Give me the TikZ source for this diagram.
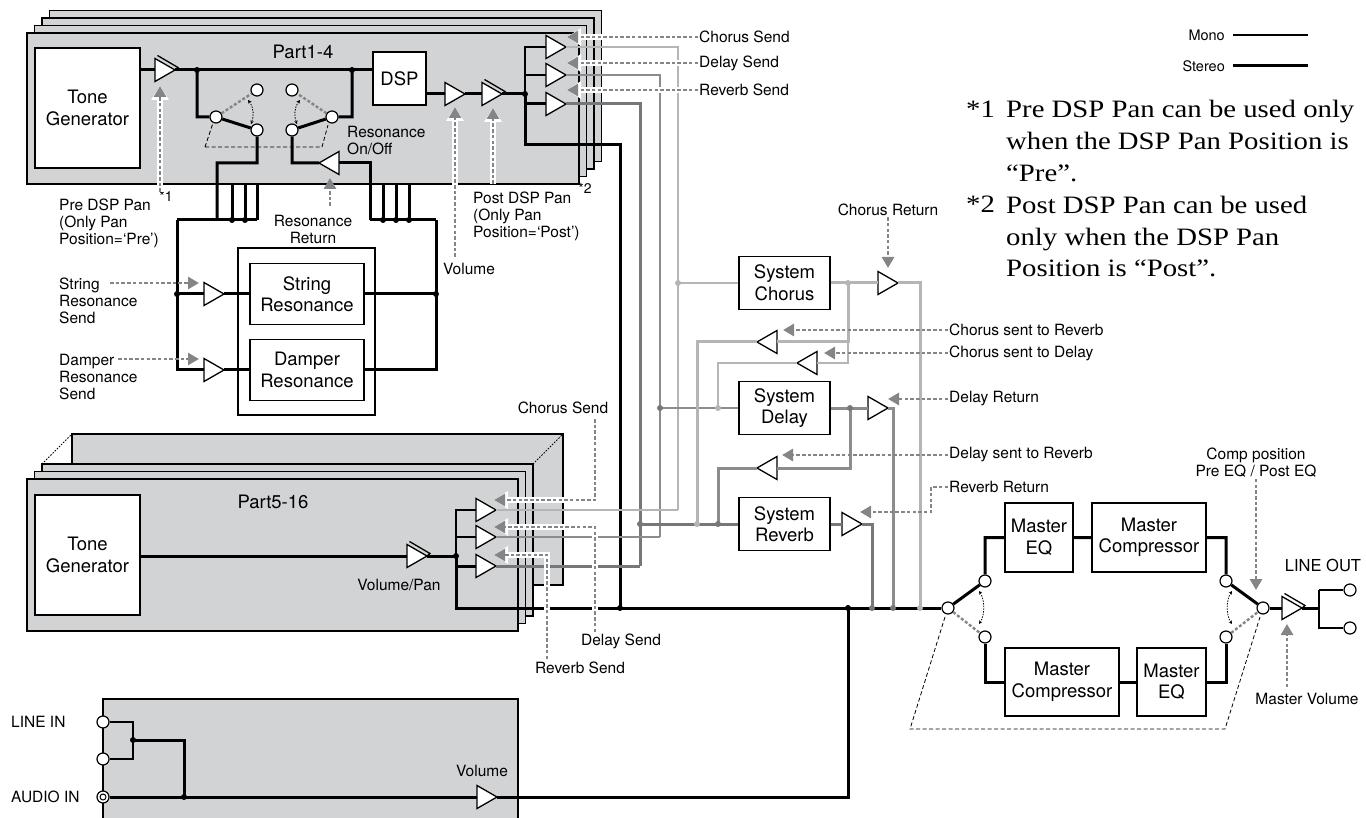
\documentclass[tikz,border=0pt]{standalone}
\usepackage{fontspec}
\setmainfont{TeX Gyre Heros}
\newfontfamily\notefont[FakeStretch=1.15]{Liberation Serif}
\usetikzlibrary{arrows.meta}

\definecolor{partgray}{HTML}{D1D3D4}
\definecolor{chorusgray}{HTML}{B3B5B7}
\definecolor{delaygray}{HTML}{8A8C8E}
\definecolor{reverbgray}{HTML}{767779}
\definecolor{ctlgray}{HTML}{838587}

\newcommand\labfont{\fontsize{15.5}{17}\selectfont}
\newcommand\blkfont{\fontsize{18.5}{21.5}\selectfont}
\newcommand\jdot[2][black]{\fill[#1] (#2) circle (3);}

\tikzset{
  layer/.style={draw, fill=partgray, line width=1.2pt},
  blk/.style={draw, fill=white, line width=1.3pt, font=\blkfont, align=center, inner sep=0pt},
  lab/.style={font=\labfont, inner sep=1pt, align=center},
  sw/.style={circle, draw, fill=white, line width=1.2pt, minimum size=12pt, inner sep=0pt},
  stereo/.style={line width=3pt},
  mono/.style={line width=1.3pt},
  offline/.style={draw=ctlgray, line width=2.4pt, dash pattern=on 3pt off 2pt},
  gang/.style={line width=0.8pt, dash pattern=on 4pt off 2.5pt},
  swing/.style={line width=0.8pt, dash pattern=on 1.5pt off 1.2pt,
    {Stealth[length=3.5pt,width=3.5pt]}-{Stealth[length=3.5pt,width=3.5pt]}},
  ctl/.style={draw=ctlgray, line width=2.7pt, dash pattern=on 3.5pt off 2.2pt,
    -{Triangle[length=11pt,width=12pt]}},
  ctlw/.style={ctl, preaction={draw=white, line width=6pt, solid,
    -{Triangle[length=14pt,width=17pt]}}},
  amp/.pic={\draw[line width=1.3pt, fill=white] (-10,-11.5) -- (10,0) -- (-10,11.5) -- cycle;
    \coordinate (-in) at (-10,0); \coordinate (-out) at (10,0);},
  panamp/.pic={\draw[line width=1.3pt, fill=white] (-10,-11.5) -- (10,0) -- (-10,11.5) -- cycle;
    \draw[line width=1.3pt] (-7.5,-14.5) -- (13,-2.5) -- (10,0);
    \coordinate (-in) at (-10,0); \coordinate (-out) at (10,0);},
}

\begin{document}
\begin{tikzpicture}[x=1pt, y=-1pt]
\useasboundingbox (0,0) rectangle (1366,818);

% part stacks
\foreach \d in {3,2,1,0}
  \draw[layer] ({27+7.5*\d},{33-7.5*\d}) rectangle ({579+7.5*\d},{184-7.5*\d});
\draw[layer] (72,434) rectangle (563,585);
\draw[gang, dash pattern=on 1.5pt off 1.5pt] (42,464) -- (72,434) (533,464) -- (563,434);
\foreach \d in {2,1,0}
  \draw[layer] ({27+7.5*\d},{479-7.5*\d}) rectangle ({518+7.5*\d},{631-7.5*\d});
\draw[layer] (103,699) rectangle (518,830);
\draw[line width=1.3pt] (238,248) rectangle (375,415);

\node[font=\blkfont] (t14) at (303,52) {Part1-4};
\node[font=\blkfont] (t516) at (273,502) {Part5-16};

% blocks
\node[blk, minimum width=105pt, minimum height=120pt] (tg1) at (87.5,108) {Tone\\Generator};
\node[blk, minimum width=53pt, minimum height=53pt] (dsp) at (399.5,78.5) {DSP};
\node[blk, minimum width=114pt, minimum height=61pt] (sres) at (307,294) {String\\Resonance};
\node[blk, minimum width=114pt, minimum height=61pt] (dres) at (307,370) {Damper\\Resonance};
\node[blk, minimum width=105pt, minimum height=120pt] (tg2) at (87.5,555) {Tone\\Generator};
\node[blk, minimum width=91pt, minimum height=53pt] (sch) at (784.5,283) {System\\Chorus};
\node[blk, minimum width=91pt, minimum height=53pt] (sdl) at (784.5,408) {System\\Delay};
\node[blk, minimum width=91pt, minimum height=53pt] (srv) at (784.5,524) {System\\Reverb};
\node[blk, minimum width=68pt, minimum height=69pt] (meqa) at (1039,537.5) {Master\\EQ};
\node[blk, minimum width=114pt, minimum height=69pt] (mcpa) at (1149,537.5) {Master\\Compressor};
\node[blk, minimum width=114pt, minimum height=68pt] (mcpb) at (1062,682) {Master\\Compressor};
\node[blk, minimum width=69pt, minimum height=68pt] (meqb) at (1171.5,682) {Master\\EQ};

% amps
\pic (pre) at (165,70) {panamp};
\pic (vol) at (455,94) {amp};
\pic (post) at (492,94) {panamp};
\pic (cs1) at (556,47) {amp};
\pic (ds1) at (556,75) {amp};
\pic (rs1) at (556,104) {amp};
\pic[rotate=180] (resret) at (329,163) {amp};
\pic (samp) at (214,294) {amp};
\pic (damp) at (214,370) {amp};
\pic (vp) at (417,556) {panamp};
\pic (cs2) at (486,510) {amp};
\pic (ds2) at (486,537) {amp};
\pic (rs2) at (486,566) {amp};
\pic (cret) at (888,283) {amp};
\pic[rotate=180] (ctor) at (767,342) {amp};
\pic[rotate=180] (ctod) at (807,363) {amp};
\pic (dret) at (878,408) {amp};
\pic[rotate=180] (dtor) at (767,468) {amp};
\pic (rvret) at (852,524) {amp};
\pic (mvol) at (1292,608) {panamp};
\pic (avol) at (487,797) {amp};

% switches
\node[sw] (swla) at (216,117) {};
\node[sw] (swlb) at (257,90) {};
\node[sw] (swlc) at (257,130) {};
\node[sw] (swra) at (332,117) {};
\node[sw] (swrb) at (292,90) {};
\node[sw] (swrc) at (292,130) {};
\node[sw] (mswa) at (948,608) {};
\node[sw] (mswb) at (985,581) {};
\node[sw] (mswc) at (985,637) {};
\node[sw] (mswd) at (1226,581) {};
\node[sw] (mswe) at (1226,637) {};
\node[sw] (mswf) at (1263,608) {};
\node[sw] (lout1) at (1350,590) {};
\node[sw] (lout2) at (1350,628) {};
\node[sw] (lin1) at (103,722) {};
\node[sw] (lin2) at (103,759) {};
\node[sw] (ain) at (103,797) {};
\draw[line width=1pt] (ain) circle (3);

% part 1-4 signal
\draw[stereo] (tg1.east |- pre-in) -- (pre-in) (pre-out) -- (dsp.west |- pre-out);
\draw[stereo] (197,70) |- (swla) (swla) -- (swlc) (swlc) -- (257,163) -| (217,220);
\draw[stereo] (352,70) |- (swra) (swra) -- (swrc) (swrc) -- (292,163) -- (resret-out);
\draw[stereo] (resret-in) -- (370,163) -- (370,220);
\draw[offline] (swla) -- (swlb) (swra) -- (swrb);
\draw[gang] (205,147) -- (213,123) (205,147) -- (322,147) -- (328,125);
\draw[swing] (248,100) .. controls (254,108) and (254,116) .. (251,124);
\draw[swing] (300,100) .. controls (294,108) and (294,116) .. (297,124);
\foreach \x in {232,245,257,383,396,409}
  \draw[stereo] (\x,184) -- (\x,220);
\draw[stereo] (177,220) -- (257,220) (370,220) -- (436,220);
\draw[stereo] (177,220) -- (177,370) -- (damp-in) (177,294) -- (samp-in);
\draw[stereo] (samp-out) -- (sres.west) (damp-out) -- (dres.west);
\draw[stereo] (sres.east) -- (436,294) (dres.east) -- (436,370) -- (436,220);
\draw[stereo] (dsp.east |- vol-in) -- (vol-in) (vol-out) -- (post-in) (post-out) -- (525,94);
\draw[mono] (525,94) -- (525,47) -- (cs1-in) (525,75) -- (ds1-in);
\draw[stereo] (525,94) -- (525,104) -- (rs1-in) (525,104) -- (525,145) -- (620,145) -- (620,608);
\draw[mono, chorusgray] (cs1-out) -- (678,47) -- (678,510);
\draw[mono, delaygray] (ds1-out) -- (660,75) -- (660,537);
\draw[stereo, reverbgray] (rs1-out) -- (640,104) -- (640,566);

% part 5-16 signal
\draw[stereo] (tg2.east |- vp-in) -- (vp-in) (vp-out) -- (456,556);
\draw[mono] (456,556) -- (456,510) -- (cs2-in) (456,537) -- (ds2-in);
\draw[stereo] (456,556) -- (456,566) -- (rs2-in) (456,566) -- (456,608) -- (mswa);
\draw[mono, chorusgray] (cs2-out) -- (678,510);
\draw[mono, delaygray] (ds2-out) -- (660,537);
\draw[stereo, reverbgray] (rs2-out) -- (640,566);

% system effects
\draw[mono, chorusgray] (678,283) -- (sch.west);
\draw[mono, delaygray] (660,408) -- (sdl.west);
\draw[stereo, reverbgray] (640,524) -- (srv.west);
\draw[stereo, chorusgray] (sch.east) -- (cret-in) (cret-out) -- (920,283) -- (920,608);
\draw[stereo, chorusgray] (848,283) -- (848,342) -- (ctor-in) (ctor-out) -- (697,342) -- (697,524);
\draw[mono, chorusgray] (848,342) -- (848,363) -- (ctod-in) (ctod-out) -- (718,363) -- (718,408);
\draw[stereo, delaygray] (sdl.east) -- (dret-in) (dret-out) -- (893,408) -- (893,608);
\draw[stereo, delaygray] (850,408) -- (850,468) -- (dtor-in) (dtor-out) -- (718,468) -- (718,524);
\draw[stereo, reverbgray] (srv.east) -- (rvret-in) (rvret-out) -- (872,524) -- (872,608);

% line in
\draw[mono] (lin1) -- (133,722) -- (133,759) -- (lin2);
\draw[stereo] (133,740) -- (184,740) -- (184,797);
\draw[stereo] (ain) -- (avol-in) (avol-out) -- (848,797) -- (848,608);

% master
\draw[stereo] (mswa) -- (mswb) (mswb) |- (meqa.west) (meqa) -- (mcpa) (mcpa.east) -| (mswd) (mswd) -- (mswf);
\draw[stereo] (mswc) |- (mcpb.west) (mcpb) -- (meqb) (meqb.east) -| (mswe);
\draw[offline] (mswa) -- (mswc) (mswe) -- (mswf);
\draw[gang] (945,617) -- (910,729) -- (1225,729) -- (1260,617);
\draw[swing] (979,591) .. controls (985,600) and (985,615) .. (979,624);
\draw[swing] (1232,591) .. controls (1226,600) and (1226,615) .. (1232,624);
\draw[stereo] (mswf) -- (mvol-in) (mvol-out) -- (1319,608);
\draw[mono] (1319,590) -- (lout1) (1319,590) -- (1319,628) -- (lout2);

% dots
\foreach \p in {{197,70},{352,70},{232,220},{245,220},{383,220},{396,220},{409,220},
  {177,294},{436,294},{525,94},{456,556},{620,608},{848,608},{133,740},{184,797}}
  {\jdot{\p}}
\foreach \p in {{678,283},{848,283},{697,524},{718,408},{920,608}}
  {\jdot[chorusgray]{\p}}
\foreach \p in {{660,408},{850,408},{718,524},{640,524},{872,608},{893,608}}
  {\jdot[reverbgray]{\p}}

% labels and controls, part 1-4
\node[lab, anchor=west] (lcs1) at (698,37) {Chorus Send};
\node[lab, anchor=west] (lds1) at (698,63) {Delay Send};
\node[lab, anchor=west] (lrs1) at (698,90) {Reverb Send};
\draw[ctlw] (lcs1.west) -- (567,37);
\draw[ctlw] (lds1.west) -- (567,63);
\draw[ctlw] (lrs1.west) -- (567,90);
\node[lab, anchor=north west, align=left] (lpre) at (58,198) {Pre DSP Pan\\(Only Pan\\Position=‘Pre’)};
\node[font=\fontsize{14}{15}\selectfont] (npre) at (166,196) {*1};
\draw[ctlw] (160,192) -- (160,86);
\node[lab, anchor=north west, align=left] (lpost) at (472,191) {Post DSP Pan\\(Only Pan\\Position=‘Post’)};
\node[font=\fontsize{14}{15}\selectfont] (npost) at (585,188) {*2};
\draw[ctlw] (493,184) -- (493,108);
\node[lab, anchor=west] (lvol) at (442,269) {Volume};
\draw[ctlw] (455,257) -- (455,107);
\node[lab] (lresret) at (313,229) {Resonance\\Return};
\draw[ctl] (330,206) -- (330,178);
\node[lab, anchor=west, align=left] (lonoff) at (346,141) {Resonance\\On/Off};
\node[lab, anchor=west, align=left] (lstr) at (58,301) {String\\Resonance\\Send};
\draw[ctl] (110,283) -- (199,283);
\node[lab, anchor=west, align=left] (ldmp) at (58,377) {Damper\\Resonance\\Send};
\draw[ctl] (118,359) -- (199,359);

% labels and controls, part 5-16
\node[lab] (lvp) at (399,585) {Volume/Pan};
\node[lab] (lcs2) at (563,408) {Chorus Send};
\node[lab] (lds2) at (621,641) {Delay Send};
\node[lab] (lrs2) at (580,668) {Reverb Send};
\draw[ctlw] (595,419) -- (595,500) -- (494,500);
\draw[ctlw] (595,632) -- (595,527) -- (494,527);
\draw[ctlw] (547,659) -- (547,555) -- (494,555);

% labels and controls, system
\node[lab] (lcret) at (888,210) {Chorus Return};
\draw[ctl] (lcret.south) -- (888,268);
\node[lab, anchor=west] (lctor) at (948,330) {Chorus sent to Reverb};
\draw[ctl] (lctor.west) -- (783,330);
\node[lab, anchor=west] (lctod) at (948,353) {Chorus sent to Delay};
\draw[ctl] (lctod.west) -- (824,353);
\node[lab, anchor=west] (ldret) at (948,399) {Delay Return};
\draw[ctl] (ldret.west) -- (888,399);
\node[lab, anchor=west] (ldtor) at (948,455) {Delay sent to Reverb};
\draw[ctl] (ldtor.west) -- (782,455);
\node[lab, anchor=west] (lrvret) at (948,487) {Reverb Return};
\draw[ctl] (lrvret.west) -- (931,487) -- (931,512) -- (860,512);

% labels, master and inputs
\node[lab] (lcomp) at (1256,463) {Comp position\\Pre EQ / Post EQ};
\draw[ctl] (lcomp.south) -- (1256,590);
\node[lab] (lmvol) at (1307,699) {Master Volume};
\draw[ctl] (1287,687) -- (1287,624);
\node[lab, font=\fontsize{16.5}{18}\selectfont] (lout) at (1323,565) {LINE OUT};
\node[lab, anchor=west] (lavol) at (455,771) {Volume};
\node[lab, anchor=west] (llin) at (10,722) {LINE IN};
\node[lab, anchor=west] (lain) at (10,797) {AUDIO IN};

% legend
\node[lab, anchor=east, font=\fontsize{14.5}{16}\selectfont] (lmono) at (1226,35) {Mono};
\node[lab, anchor=east, font=\fontsize{14.5}{16}\selectfont] (lster) at (1226,66) {Stereo};
\draw[mono] (1233,35) -- (1308,35);
\draw[stereo] (1233,66) -- (1308,66);

% notes
\node[font=\notefont\fontsize{25}{30}\selectfont, anchor=base west, inner sep=0pt] (nt1) at (966,118) {*1};
\node[font=\notefont\fontsize{25}{30}\selectfont, anchor=base west, inner sep=0pt] (nt2) at (966,213) {*2};
\foreach \t [count=\i] in {{Pre DSP Pan can be used only},{when the DSP Pan Position is},{“Pre”.},
  {Post DSP Pan can be used},{only when the DSP Pan},{Position is “Post”.}}
  \node[font=\notefont\fontsize{25}{30}\selectfont, anchor=base west, inner sep=0pt] at (1006,{86.2+31.8*\i}) {\t};
\end{tikzpicture}
\end{document}
